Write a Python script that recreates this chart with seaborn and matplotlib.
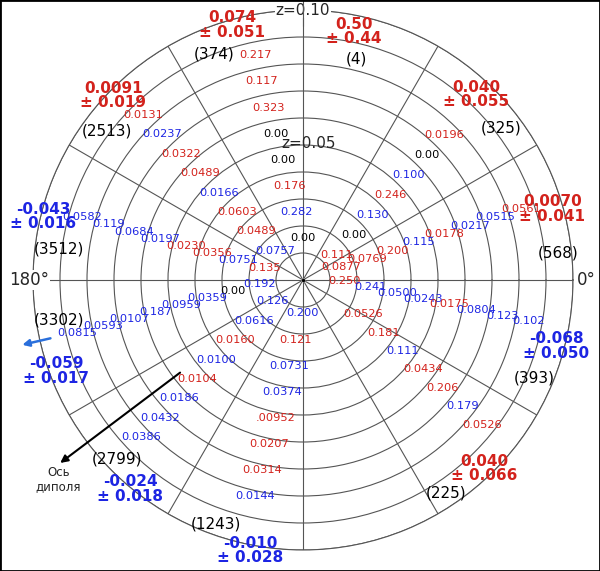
import numpy as np
import pandas as pd
import matplotlib
matplotlib.use("Agg")
import matplotlib.pyplot as plt
from matplotlib.patches import Rectangle
import seaborn as sns

# ---------------- data ----------------
sector_angles = [15, 45, 75, 105, 135, 165, 195, 225, 255, 285, 315, 345]
counts = ["568", "325", "4", "374", "2513", "3512", "3302", "2799", "1243", None, "225", "393"]
means = ["0.0070", "0.040", "0.50", "0.074", "0.0091", "-0.043", "-0.059", "-0.024", "-0.010", None, "0.040", "-0.068"]
errors = ["0.041", "0.055", "0.44", "0.051", "0.019", "0.016", "0.017", "0.018", "0.028", None, "0.066", "0.050"]

# inner values per sector, redshift bins 0.01-0.02 ... 0.08-0.09 ; colour code r/b/k
s015 = ["0.0877", "0.0769", "0.200", "0.115", "0.0178", "0.0217", "0.0515", "0.0561"]
c015 = "rrrbrbbr"
s045 = ["0.111", "0.00", "0.130", "0.246", "0.100", "0.00", "0.0196", None]
c045 = "rkbrbkr-"
s075 = [None] * 8
c075 = "--------"
s105 = ["0.00", "0.282", "0.176", "0.00", "0.00", "0.323", "0.117", "0.217"]
c105 = "kbrkkrrr"
s135 = ["0.0757", "0.0489", "0.0603", "0.0166", "0.0489", "0.0322", "0.0237", "0.0131"]
c135 = "brrbrrbr"
s165 = ["0.135", "0.0751", "0.0356", "0.0230", "0.0197", "0.0684", "0.119", "0.0582"]
c165 = "rbrrbbbb"
s195 = ["0.192", "0.00", "0.0359", "0.0959", "0.187", "0.0107", "0.0593", "0.0815"]
c195 = "bkbbbbbb"
s225 = ["0.126", "0.0616", "0.0160", "0.0100", "0.0104", "0.0186", "0.0432", "0.0386"]
c225 = "bbrbrbbb"
s255 = ["0.200", "0.121", "0.0731", "0.0374", ".00952", "0.0207", "0.0314", "0.0144"]
c255 = "brbbrrrb"
s285 = [None] * 8
c285 = "--------"
s315 = [None, "0.0526", "0.181", "0.111", "0.0434", "0.206", "0.179", "0.0526"]
c315 = "-rrbrrbr"
s345 = ["0.250", "0.241", "0.0500", "0.0243", "0.0175", "0.0804", "0.123", "0.102"]
c345 = "rbbbrbbb"

sector_values = [s015, s045, s075, s105, s135, s165, s195, s225, s255, s285, s315, s345]
sector_colors = [c015, c045, c075, c105, c135, c165, c195, c225, c255, c285, c315, c345]
bin_mid = [0.015, 0.025, 0.035, 0.045, 0.055, 0.065, 0.075, 0.085]

dipole_angle = 217
arrow_angle = 193

# ---------------- layout / style ----------------
RED = "#d3221c"
BLUE = "#1d25e3"
palette = {"r": RED, "b": BLUE, "k": "black"}
# direction of value line, perpendicular offset, radial shift (per sector)
val_dir = [18, 48, 75, 104.7, 134, 164.5, 195, 226, 255.4, 285, 317, 347.8]
val_perp = [0, 0.003, 0, 0.004, 0, 0.0006, 0.0026, 0.0026, -0.003, 0, -0.006, -0.0027]
val_shift = [0, 0, 0, 0, 0, 0, 0.001, -0.0015, -0.003, 0, 0, 0]
count_pos = [(6.0, 0.095), (37.5, 0.0925), (76.5, 0.084), (111.4, 0.090), (142.8, 0.091),
             (172.7, 0.091), (189.3, 0.0915), (223.9, 0.0956), (250.4, 0.096), None,
             (303.8, 0.095), (337, 0.093)]
mean_pos = [(15.9, 0.096), (46.9, 0.094), (78.4, 0.094), (105.5, 0.098), (135.8, 0.098),
            (166.3, 0.099), (200.2, 0.0975), (230.4, 0.1005), (258.9, 0.102), None,
            (313.9, 0.097), (345.4, 0.097)]

sns.set_theme(style="white")
plt.rcParams["font.family"] = ["DejaVu Sans"]

fig = plt.figure(figsize=(6, 5.71), dpi=100)
ax = fig.add_axes([33 / 600, 21 / 571, 540 / 600, 540 / 571], projection="polar")
ax.set_facecolor("white")
ax.set_ylim(0, 0.10)
ax.set_yticks(np.arange(0.01, 0.1001, 0.01))
ax.set_yticklabels([])
ax.set_xticks(np.radians(np.arange(0, 360, 30)))
ax.set_xticklabels([])
ax.grid(True, color="#555555", linewidth=0.8)
ax.spines["polar"].set_color("#555555")
ax.spines["polar"].set_linewidth(0.8)


def place(direction, along, perp):
    t = np.radians(direction)
    x = along * np.cos(t) + perp * np.cos(t - np.pi / 2)
    y = along * np.sin(t) + perp * np.sin(t - np.pi / 2)
    return np.arctan2(y, x), np.hypot(x, y)


rows = []
for i, ang in enumerate(sector_angles):
    for k, (v, c) in enumerate(zip(sector_values[i], sector_colors[i])):
        if v is None:
            continue
        th, r = place(val_dir[i], bin_mid[k] + val_shift[i], val_perp[i])
        rows.append(dict(sector=ang, theta=th, r=r, label=v, col=c))
df = pd.DataFrame(rows)
for _, row in df.iterrows():
    ax.text(row.theta, row.r, row.label, color=palette[row.col], fontsize=8.2,
            ha="center", va="center")

for i, ang in enumerate(sector_angles):
    if counts[i] is None:
        continue
    th, r = count_pos[i]
    ax.text(np.radians(th), r, f"({counts[i]})", fontsize=11, color="black",
            ha="center", va="center")
    th, r = mean_pos[i]
    col = BLUE if means[i].startswith("-") else RED
    ax.text(np.radians(th), r, f"{means[i]}\n± {errors[i]}", fontsize=11,
            fontweight="bold", color=col, ha="center", va="center", linespacing=0.95)

# centre dot
sns.scatterplot(x=[0.0], y=[0.0], ax=ax, color="black", s=8, legend=False, zorder=5)

# z labels and angle labels
ax.text(np.radians(90), 0.0998, "z=0.10", fontsize=11, ha="center", va="center",
        bbox=dict(facecolor="white", edgecolor="none", pad=0.3), zorder=6)
ax.plot([np.radians(90), np.radians(90)], [0.094, 0.1045], color="#555555", lw=0.8,
        clip_on=False, zorder=7)
ax.text(np.radians(87.8), 0.0505, "z=0.05", fontsize=11, ha="center", va="center")
ax.text(np.radians(0), 0.1048, "0°", fontsize=12, ha="center", va="center")
ax.text(np.radians(180), 0.1015, "180°", fontsize=12, ha="center", va="center",
        bbox=dict(facecolor="white", edgecolor="none", pad=0.5))

# dipole axis arrow
ax.annotate("", xy=(np.radians(dipole_angle), 0.1126), xytext=(np.radians(dipole_angle), 0.057),
            arrowprops=dict(arrowstyle="-|>", color="black", lw=1.5, mutation_scale=11,
                            shrinkA=0, shrinkB=0), annotation_clip=False)
ax.text(np.radians(219.2), 0.117, "Ось\nдиполя", fontsize=8.5, ha="center", va="center",
        linespacing=1.1)

# blue arrow
ax.annotate("", xy=(np.radians(arrow_angle), 0.1067), xytext=(np.radians(arrow_angle), 0.096),
            arrowprops=dict(arrowstyle="-|>", color="#2a6fdb", lw=1.8, mutation_scale=10,
                            shrinkA=0, shrinkB=0), annotation_clip=False)

fig.patches.append(Rectangle((0, 0), 1, 1, transform=fig.transFigure, fill=False,
                             edgecolor="black", linewidth=2))
ax.set_xlabel("")
ax.set_ylabel("")
fig.savefig("out.png", dpi=100)
